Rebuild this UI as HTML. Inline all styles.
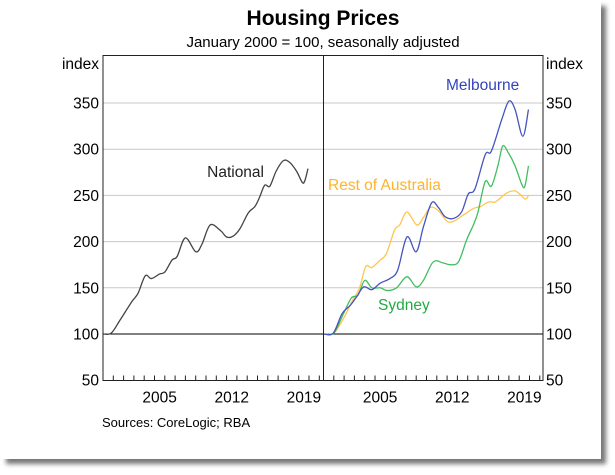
<!DOCTYPE html>
<html><head><meta charset="utf-8"><style>
html,body{margin:0;padding:0;background:#fff;width:615px;height:475px;overflow:hidden}
svg{display:block;font-family:"Liberation Sans",Arial,sans-serif}
</style></head><body>
<svg id="chart" width="615" height="475" viewBox="0 0 615 475">
<defs><filter id="sh" x="-5%" y="-5%" width="115%" height="115%"><feGaussianBlur stdDeviation="2.5"/></filter></defs>
<rect x="6" y="6" width="600" height="458" fill="#777" filter="url(#sh)"/>
<rect x="0" y="0" width="601" height="459" fill="#fff"/>
<text x="323" y="25" text-anchor="middle" font-size="21" font-weight="bold" fill="#000">Housing Prices</text>
<text x="323" y="47" text-anchor="middle" font-size="15" fill="#000">January 2000 = 100, seasonally adjusted</text>
<g id="grid"></g>
<g id="plot"></g>
<g id="axes"></g>
<text x="99" y="69" text-anchor="end" font-size="15.5">index</text>
<text x="546" y="69" font-size="15.5">index</text>
<text x="264" y="177" text-anchor="end" font-size="15.5" fill="#222">National</text>
<text x="446" y="90" font-size="15.5" fill="#3344bb">Melbourne</text>
<text x="328" y="190" font-size="15.5" fill="#ffb32a">Rest of Australia</text>
<text x="378" y="310" font-size="15.5" fill="#22aa44">Sydney</text>
<text x="102" y="427" font-size="13" fill="#000">Sources:  CoreLogic; RBA</text>
</svg>
<script>
const yTicks = [50,100,150,200,250,300,350];
const yearLabels = [2005,2012,2019];
const nationalT = [2000,2000.8,2001.65,2002.8,2003.4,2004.1,2004.7,2005.5,2006,2006.7,2007.2,2008,2009,2009.6,2010.4,2011.4,2012,2012.65,2013.3,2014.1,2014.75,2015.2,2015.7,2016.2,2016.8,2017.5,2018.1,2018.8,2019.35,2019.6,2019.9];
const nationalV = [100,101,115,135,144,163,160,165,167,180,184,204,189,197,218,212,205,206,214,231,238,248,261,260,276,287.5,286,276,264,266,279];
const melbT = [2000,2000.95,2001.8,2002.6,2003.2,2003.9,2004.7,2005.5,2006.45,2007.2,2008.1,2009,2009.7,2010.5,2011.15,2011.8,2012.6,2013.4,2014.05,2014.7,2015.7,2016.3,2017.3,2018,2018.6,2019.35,2019.9];
const melbV = [100,101,122,131,140,151,148,155,160,169,205,189,216,242,237,227,225,232,251.5,257,294,298,332,352,343,314,343];
const sydT = [2000,2001,2001.9,2002.7,2003.35,2004,2004.7,2005.5,2006.2,2007.1,2008.1,2009,2009.7,2010.65,2011.6,2012.3,2013.1,2013.9,2014.55,2015,2015.7,2016.3,2016.95,2017.4,2017.95,2018.6,2019.25,2019.55,2019.9];
const sydV = [100,101,121,139,142,158,150,150,147,150,162,151,158,178,177,175,178,202,218,232,265,260,283,303.5,296,282,262,260,282];
const restT = [2000,2001,2001.9,2002.8,2003.5,2004.1,2004.7,2005.5,2006.1,2006.9,2007.4,2008.1,2009.05,2009.7,2010.4,2011.2,2012,2012.65,2013.6,2014.6,2015.25,2016.05,2016.7,2017.7,2018.5,2019,2019.6,2019.9];
const restV = [100,101,116,136,150,173,172,180,187,212.5,218,232,218,226,237,233,222,222,229,236,238,243,243,252,255,252,246,250];

const NS='http://www.w3.org/2000/svg';
const L0=103, DIV=323.5, R1=543, TOP=55.5, BOT=380.5, PX=10.3;
function yS(v){return 334-(v-100)*46.2/50;}
function xS(t,x0){return x0+(t-2000)*PX;}
function mk(tag,attrs,parent){const e=document.createElementNS(NS,tag);for(const k in attrs)e.setAttribute(k,attrs[k]);parent.appendChild(e);return e;}
const grid=document.getElementById('grid'),plot=document.getElementById('plot'),axes=document.getElementById('axes');
yTicks.forEach(v=>{
  if(v!==50 && v!==100){const g=mk('line',{x1:L0,x2:R1,y1:yS(v),y2:yS(v),stroke:'#c8c8c8','stroke-width':1},grid);
  
  }
  const a=mk('text',{x:99,y:yS(v)+5.5,'text-anchor':'end','font-size':15.5},axes);a.textContent=v;
  
  
  const b=mk('text',{x:546,y:yS(v)+5.5,'font-size':15.5},axes);b.textContent=v;
  
  
});
const base=mk('line',{x1:L0,x2:R1,y1:yS(100),y2:yS(100),stroke:'#000','stroke-width':1},grid);


const fr=mk('rect',{x:L0,y:TOP,width:R1-L0,height:BOT-TOP,fill:'none',stroke:'#222','stroke-width':1},axes);


const dv=mk('line',{x1:DIV,x2:DIV,y1:TOP,y2:BOT,stroke:'#222','stroke-width':1},axes);


[L0,DIV].forEach((x0,pi)=>{
  for(let k=1;k<=21;k++){const x=xS(2000+k,x0);if(x>=(pi?R1:DIV)-1)break;
    const t=mk('line',{x1:x,x2:x,y1:BOT,y2:BOT-5,stroke:'#222','stroke-width':1},axes);
    
    }
  yearLabels.forEach(yr=>{const t=mk('text',{x:xS(yr+0.5,x0),y:BOT+22,'text-anchor':'middle','font-size':15.5},axes);t.textContent=yr;
    
    });
});
function path(T,V,x0){
  const p=T.map((t,i)=>[xS(t,x0),yS(V[i])]);
  let d='M'+p[0][0]+','+p[0][1];
  for(let i=0;i<p.length-1;i++){const a=p[i-1]||p[i],b=p[i],c=p[i+1],e=p[i+2]||c;
    d+=' C'+(b[0]+(c[0]-a[0])/6)+','+(b[1]+(c[1]-a[1])/6)+' '+(c[0]-(e[0]-b[0])/6)+','+(c[1]-(e[1]-b[1])/6)+' '+c[0]+','+c[1];}
  return d;
}
function series(T,V,x0,col,name){const e=mk('path',{d:path(T,V,x0),fill:'none',stroke:col,'stroke-width':1.3},plot);
  
  }
series(nationalT,nationalV,L0,'#444','national-line');
series(restT,restV,DIV,'#ffc54f','rest-of-australia-line');
series(sydT,sydV,DIV,'#3fbf60','sydney-line');
series(melbT,melbV,DIV,'#4455c0','melbourne-line');
</script>
</body></html>
